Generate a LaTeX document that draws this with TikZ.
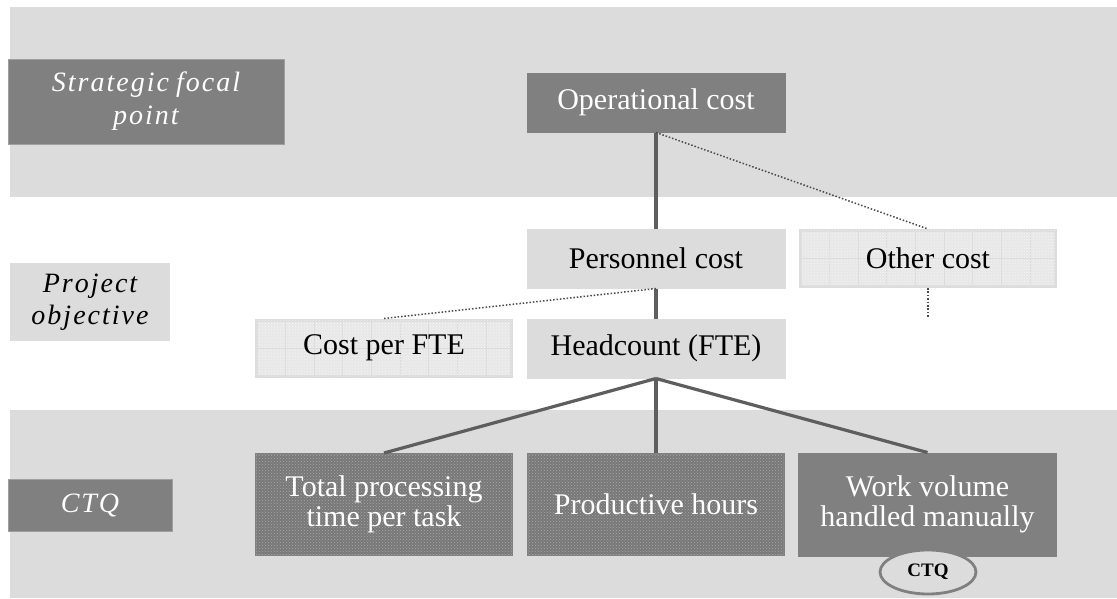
\documentclass[tikz,border=0pt]{standalone}
\usepackage{fontspec}
\setmainfont{Liberation Serif}
\usetikzlibrary{shapes.geometric,patterns}
\definecolor{dgray}{HTML}{808080}
\definecolor{lgray}{HTML}{DCDCDC}
\definecolor{linec}{HTML}{5E5E5E}
\definecolor{dotcol}{HTML}{4A4A4A}
\definecolor{lpatfill}{HTML}{E8E8E8}
\definecolor{lpatdot}{HTML}{F3F3F3}
\definecolor{gridc}{HTML}{DADADA}
\definecolor{dpatfill}{HTML}{787878}
\definecolor{dpatdot}{HTML}{A8A8A8}
\makeatletter
\newcommand\lsword[1]{\@tfor\lsch:=#1\do{\lsch\kern2pt}\kern-2pt}
\makeatother
\tikzset{
  band/.style={fill=lgray, draw=none},
  boxbase/.style={rectangle, inner sep=0pt, align=center, minimum width=258pt, minimum height=59pt,
    font=\fontsize{30}{30}\selectfont},
  darkbox/.style={boxbase, fill=dgray, draw=dgray, line width=1pt, text=white},
  lightbox/.style={boxbase, fill=lgray, draw=lgray, line width=1pt, text=black},
  gridbox/.style={boxbase, fill=lpatfill, draw=lgray, line width=3pt, text=black,
    minimum width=255pt, minimum height=56pt,
    postaction={pattern=crosshatch dots, pattern color=lpatdot},
    path picture={
      \foreach \k in {1,...,8}{
        \draw[gridc, line width=0.8pt] ([xshift=\k*28.7pt]path picture bounding box.north west) -- ([xshift=\k*28.7pt]path picture bounding box.south west);
      }
      \draw[gridc, line width=0.8pt] (path picture bounding box.west) -- (path picture bounding box.east);
    }},
  patbox/.style={boxbase, fill=dpatfill, draw=dgray, line width=2pt, text=white,
    minimum width=256pt, minimum height=101pt,
    postaction={pattern=crosshatch dots, pattern color=dpatdot}},
  labdark/.style={rectangle, inner sep=0pt, align=center, fill=dgray, draw=gray!75, line width=0.8pt, text=white,
    font=\fontsize{28}{33}\selectfont\itshape},
  lablight/.style={rectangle, inner sep=0pt, align=center, fill=lgray, draw=none, text=black,
    font=\fontsize{28}{32}\selectfont\itshape},
  conn/.style={draw=linec, line width=3.2pt},
  dotconn/.style={draw=dotcol, line width=1.5pt, dash pattern=on 1.5pt off 1.9pt},
  ctqell/.style={ellipse, fill=lgray, draw=dgray, line width=2.8pt, inner sep=0pt,
    minimum width=96pt, minimum height=44pt, font=\fontsize{19}{20}\selectfont\bfseries}
}
\begin{document}
\begin{tikzpicture}[x=1pt, y=-1pt]
\useasboundingbox (0,0) rectangle (1117,598);
\fill[white] (0,0) rectangle (1117,598);
% bands
\path[band] (10,7) rectangle (1117,197);
\path[band] (10,410) rectangle (1117,598);
% row labels
\node[labdark, minimum width=276pt, minimum height=85pt] (strat) at (146,101.5)
  {\lsword{Strategic}\ \lsword{focal}\\\lsword{point}};
\node[lablight, minimum width=160pt, minimum height=78pt] (proj) at (90,302)
  {\lsword{Project}\\\lsword{objective}};
\node[labdark, minimum width=164pt, minimum height=52pt] (ctqlab) at (90,505)
  {\lsword{CTQ}};
% tree nodes
\node[darkbox] (op) at (656,102.5) {Operational cost};
\node[lightbox] (pers) at (656,258.5) {Personnel cost};
\node[gridbox] (other) at (928,258.5) {Other cost};
\node[gridbox] (cpf) at (384,348) {Cost per FTE};
\node[lightbox] (head) at (656,348.5) {Headcount (FTE)};
\node[patbox] (tot) at (384,504.5) {Total processing\\time per task};
\node[patbox] (prod) at (656,504.5) {Productive hours};
\node[darkbox, minimum height=103pt] (work) at (927.5,504.5) {Work volume\\handled manually};
\coordinate (otherend) at (928,317);
% connectors
\draw[conn] (op.south) -- (pers.north);
\draw[dotconn] (op.south) -- (other.north);
\draw[dotconn] (other.south) -- (otherend);
\draw[conn] (pers.south) -- (head.north);
\draw[dotconn] (pers.south) -- (cpf.north);
\draw[conn] (head.south) -- (tot.north);
\draw[conn] (head.south) -- (prod.north);
\draw[conn] (head.south) -- (work.north);
% CTQ marker
\node[ctqell] (ctqmark) at (928,572) {CTQ};
\end{tikzpicture}
\end{document}
